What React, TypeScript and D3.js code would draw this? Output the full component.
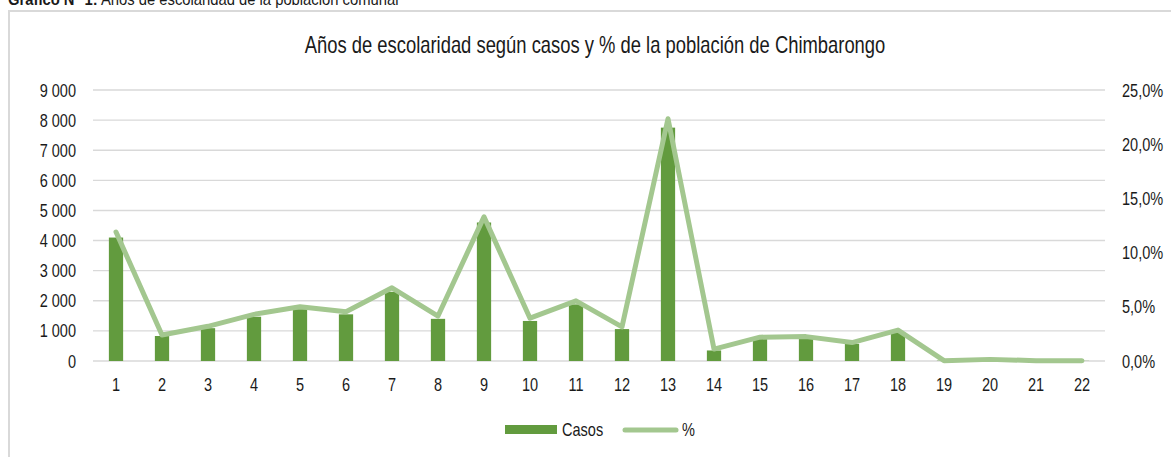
import React from "react";
import * as d3 from "d3";

const years = ["1","2","3","4","5","6","7","8","9","10","11","12","13","14","15","16","17","18","19","20","21","22"];
const casos = [4100, 830, 1090, 1470, 1720, 1550, 2300, 1400, 4600, 1330, 1880, 1060, 7750, 350, 740, 760, 570, 960, 10, 50, 10, 5];
const pct = [11.9, 2.4, 3.2, 4.3, 5.0, 4.55, 6.75, 4.15, 13.3, 3.95, 5.55, 3.15, 22.35, 1.1, 2.2, 2.25, 1.7, 2.85, 0.03, 0.15, 0.03, 0.02];
const leftTicks = [0, 1000, 2000, 3000, 4000, 5000, 6000, 7000, 8000, 9000];
const rightTicks = [0, 5, 10, 15, 20, 25];

const title = "Años de escolaridad según casos y % de la población de Chimbarongo";
const captionBold = "Gráfico N° 1:";
const captionText = " Años de escolaridad de la población comunal";
const legendBar = "Casos";
const legendLine = "%";

const W = 1171, H = 457;
const BAR = "#629b3e";
const LINE = "#a3c78f";
const GRID = "#d9d9d9";
const FONT = "'Liberation Sans', Arial, sans-serif";

type TP = { x: number; y: number; anchor?: string; size: number; sx?: number; children: React.ReactNode; weight?: string };
const T = ({ x, y, anchor = "start", size, sx = 0.83, children, weight }: TP) => (
  <text transform={`translate(${x},${y}) scale(${sx},1)`} textAnchor={anchor as any} fontSize={size} fontFamily={FONT} fill="#1a1a1a" fontWeight={weight}>
    {children}
  </text>
);

const fmtLeft = (v: number) => d3.format(",")(v).replace(/,/g, " ");
const fmtRight = (v: number) => v.toFixed(1).replace(".", ",") + "%";

export default function App() {
  const x = d3.scaleBand<string>().domain(years).range([93, 1105]).paddingInner(0.69).paddingOuter(0.345);
  const yL = d3.scaleLinear().domain([0, 9000]).range([361, 90]);
  const yR = d3.scaleLinear().domain([0, 25]).range([361, 90]);
  const cx = (d: string) => (x(d) as number) + x.bandwidth() / 2;
  const line = d3.line<number>().x((_, i) => cx(years[i])).y((v) => yR(v));

  return (
    <svg width={W} height={H} style={{ position: "absolute", left: 0, top: 0, background: "#fff" }}>
      <rect x={0} y={0} width={W} height={H} fill="#fff" />
      <text transform={`translate(8,4.5) scale(0.87,1)`} fontSize={17} fontFamily={FONT} fill="#1a1a1a">
        <tspan fontWeight="bold">{captionBold}</tspan>
        <tspan>{captionText}</tspan>
      </text>
      <rect x={9} y={11} width={W + 20} height={H + 20} fill="none" stroke={GRID} strokeWidth={2} />
      <T x={595} y={53} anchor="middle" size={23} sx={0.8}>{title}</T>
      {leftTicks.map((t) => (
        <line key={"g" + t} x1={93} x2={1105} y1={yL(t)} y2={yL(t)} stroke={GRID} strokeWidth={1.4} />
      ))}
      {leftTicks.map((t) => (
        <T key={"l" + t} x={76} y={yL(t) + 6.6} anchor="end" size={17.5}>{fmtLeft(t)}</T>
      ))}
      {rightTicks.map((t) => (
        <T key={"r" + t} x={1122} y={yR(t) + 6.6} anchor="start" size={17.5}>{fmtRight(t)}</T>
      ))}
      {years.map((d, i) => (
        <rect key={"b" + d} x={x(d)} y={yL(casos[i])} width={x.bandwidth()} height={361 - yL(casos[i])} fill={BAR} />
      ))}
      <path d={line(pct) || ""} fill="none" stroke={LINE} strokeWidth={5} strokeLinejoin="round" strokeLinecap="round" />
      {years.map((d) => (
        <T key={"x" + d} x={cx(d)} y={390.5} anchor="middle" size={17.5}>{d}</T>
      ))}
      <rect x={505} y={425} width={52} height={9} fill={BAR} />
      <T x={562} y={436} size={17.5}>{legendBar}</T>
      <line x1={625} x2={676} y1={430} y2={430} stroke={LINE} strokeWidth={5} strokeLinecap="round" />
      <T x={682} y={436} size={17.5}>{legendLine}</T>
    </svg>
  );
}
